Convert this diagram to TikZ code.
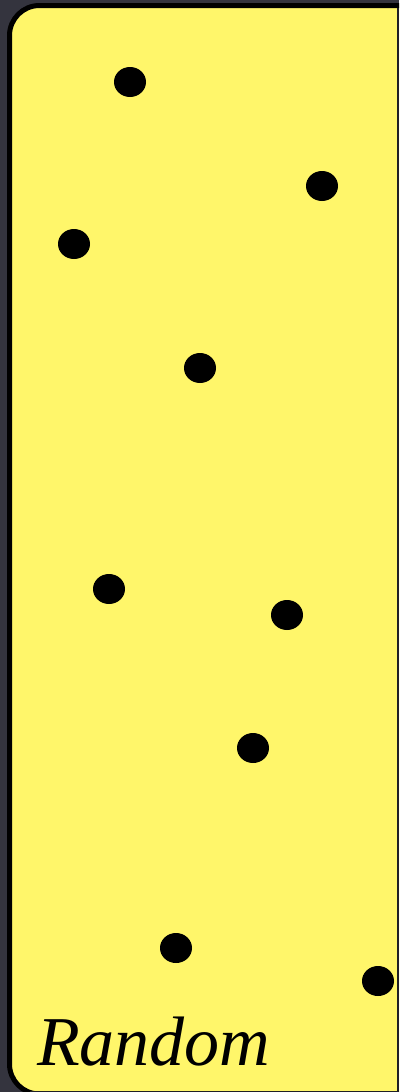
\documentclass[tikz,border=0pt]{standalone}
\usepackage{fontspec}
\setmainfont{Liberation Serif}
\usepackage{tikz}
\usetikzlibrary{positioning}
\definecolor{slatebg}{RGB}{52,52,62}
\definecolor{padyellow}{RGB}{255,246,106}

\tikzset{
    sample/.style={fill=black},
    panelbox/.style={fill=padyellow, draw=black, line width=5pt, rounded corners=30pt}
}

\begin{document}
\begin{tikzpicture}[x=1pt, y=-1pt]
    \useasboundingbox (0,0) rectangle (399,1092);
    \clip (0,0) rectangle (399,1092);

    % --- background ---
    \fill[slatebg] (0,0) rectangle (399,1092);

    % --- yellow panel ---
    \draw[panelbox] (9.5,5.5) rectangle (430,1094);
    \draw[slatebg!60!black, line width=2pt] (398,8) -- (398,1092);
    \draw[slatebg!60!black, line width=1pt] (30,1091.5) -- (399,1091.5);

    % Random sample points
    \foreach \pt in {{130,82},{322,186},{74,244},{200,368},{109,589},
        {287,615},{253,748},{176,948},{378,981}}{
        \fill[sample] (\pt) ellipse (16pt and 15pt);
    }

    % Label
    \node[anchor=base west, inner sep=0pt, font=\itshape\fontsize{70}{84}\selectfont] (lbl) at (37,1065) {Random};
\end{tikzpicture}
\end{document}
